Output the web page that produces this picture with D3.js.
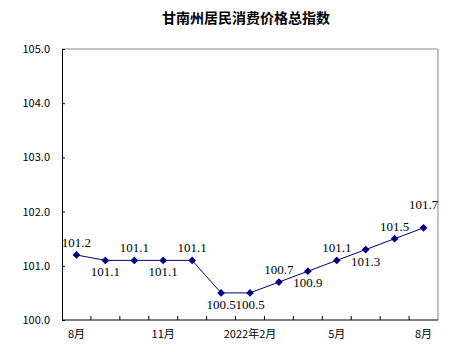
<!DOCTYPE html>
<html lang="zh">
<head>
    <meta charset="UTF-8">
    <title>甘南州居民消费价格总指数</title>
    <script src="https://d3js.org/d3.v7.min.js"></script>
    <style>
        body { margin: 0; background: #fff; }
    </style>
</head>
<body>
    <div id="chart"></div>
    <script>
        // Data
        const months = ["8月", "9月", "10月", "11月", "12月", "2022年1月", "2022年2月", "3月", "4月", "5月", "6月", "7月", "8月"];
        const values = [101.2, 101.1, 101.1, 101.1, 101.1, 100.5, 100.5, 100.7, 100.9, 101.1, 101.3, 101.5, 101.7];
        const labelPos = ["up", "down", "up", "down", "up", "down", "down", "up", "down", "up", "down", "up", "high"];
        const shownTicks = [0, 3, 6, 9, 12];
        const yTicks = [100, 101, 102, 103, 104, 105];

        const width = 461, height = 352;
        const margin = { top: 49, right: 23, bottom: 32, left: 62 };

        const svg = d3.select("#chart").append("svg")
            .attr("width", width)
            .attr("height", height);

        const x = d3.scaleBand()
            .domain(d3.range(months.length))
            .range([margin.left, width - margin.right]);

        const y = d3.scaleLinear()
            .domain([100, 105])
            .range([height - margin.bottom, margin.top]);

        // Title
        svg.append("text")
            .attr("x", 246)
            .attr("y", 23)
            .attr("text-anchor", "middle")
            .attr("font-family", "Noto Sans CJK SC")
            .attr("font-weight", "bold")
            .attr("font-size", 14)
            .text("甘南州居民消费价格总指数");

        // Frame (top & right in gray)
        svg.append("path")
            .attr("d", `M${margin.left},${margin.top}H${width - margin.right}V${height - margin.bottom}`)
            .attr("fill", "none")
            .attr("stroke", "#888")
            .attr("stroke-width", 1);

        // Y axis
        const yAxis = svg.append("g")
            .attr("transform", `translate(${margin.left},0)`)
            .call(d3.axisRight(y).tickValues(yTicks).tickSize(3).tickFormat(d3.format(".1f")));
        yAxis.select(".domain").attr("stroke", "#000");
        yAxis.selectAll("text")
            .attr("x", -12)
            .attr("text-anchor", "end")
            .attr("font-family", "Noto Sans CJK SC")
            .attr("font-size", 11)
            .attr("fill", "#000");

        // X axis: ticks on band boundaries, pointing up
        const xAxis = svg.append("g")
            .attr("transform", `translate(0,${height - margin.bottom})`);
        xAxis.append("line")
            .attr("x1", margin.left).attr("x2", width - margin.right)
            .attr("stroke", "#000");
        xAxis.selectAll(".tick")
            .data(d3.range(1, months.length))
            .join("line")
            .attr("x1", d => x(d)).attr("x2", d => x(d))
            .attr("y1", 0).attr("y2", -4)
            .attr("stroke", "#000");
        xAxis.selectAll("text")
            .data(shownTicks)
            .join("text")
            .attr("x", d => x(d) + x.bandwidth() / 2)
            .attr("y", 18)
            .attr("text-anchor", "middle")
            .attr("font-family", "Noto Sans CJK SC")
            .attr("font-size", 11)
            .text(d => months[d]);

        // Line
        const cx = i => x(i) + x.bandwidth() / 2;
        svg.append("path")
            .datum(values)
            .attr("d", d3.line().x((d, i) => cx(i)).y(d => y(d)))
            .attr("fill", "none")
            .attr("stroke", "#000080")
            .attr("stroke-width", 1);

        // Markers (square rotated into a diamond)
        svg.append("g")
            .selectAll("path")
            .data(values)
            .join("path")
            .attr("d", d3.symbol(d3.symbolSquare, 30))
            .attr("transform", (d, i) => `translate(${cx(i)},${y(d)}) rotate(45)`)
            .attr("fill", "#000080");

        // Data labels
        const offset = { up: -8, down: 16, high: -19 };
        svg.append("g")
            .selectAll("text")
            .data(values)
            .join("text")
            .attr("x", (d, i) => cx(i))
            .attr("y", (d, i) => y(d) + offset[labelPos[i]])
            .attr("text-anchor", "middle")
            .attr("font-family", "Liberation Serif")
            .attr("font-size", 13)
            .text(d => d.toFixed(1));
    </script>
</body>
</html>
